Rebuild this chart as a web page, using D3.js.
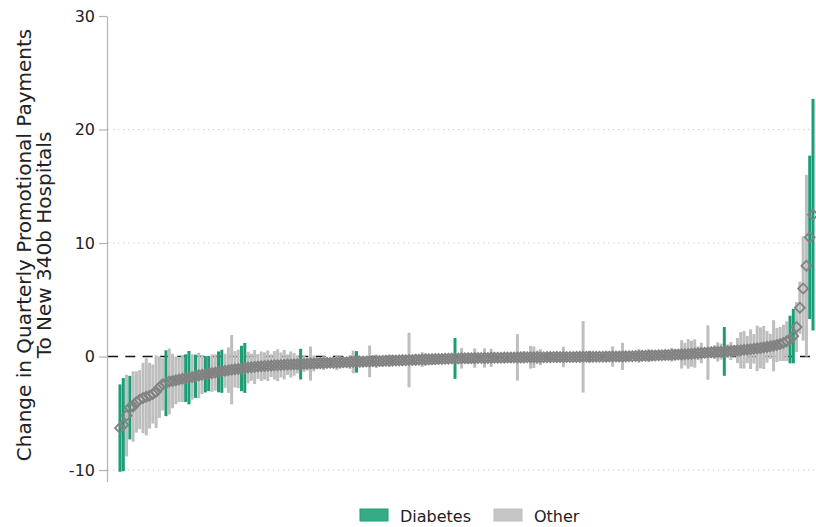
<!DOCTYPE html>
<html>
<head>
<meta charset="utf-8">
<script src="https://cdn.jsdelivr.net/npm/d3@7"></script>
<style>
  body { margin: 0; background: #fff; }
  svg { display: block; font-family: "DejaVu Sans", sans-serif; }
</style>
</head>
<body>
<svg id="chart" width="816" height="527"></svg>
<script>
// Point estimates, sorted from the most negative to the most positive drug.
const estimates = [
  -6.3, -6.0, -5.2, -4.5, -4.4, -4.0, -3.8, -3.65, -3.55, -3.45,
  -3.3, -3.1, -2.7, -2.45, -2.35, -2.2, -2.16, -2.1, -2.02, -1.95,
  -1.9, -1.86, -1.8, -1.74, -1.66, -1.6, -1.56, -1.5, -1.46, -1.41,
  -1.35, -1.3, -1.26, -1.2, -1.16, -1.12, -1.09, -1.05, -1.0, -0.97,
  -0.94, -0.92, -0.88, -0.86, -0.83, -0.81, -0.8, -0.77, -0.76, -0.74,
  -0.72, -0.71, -0.7, -0.69, -0.68, -0.67, -0.65, -0.64, -0.62, -0.61,
  -0.6, -0.58, -0.57, -0.56, -0.55, -0.54, -0.53, -0.52, -0.51, -0.5,
  -0.49, -0.48, -0.47, -0.46, -0.45, -0.44, -0.43, -0.42, -0.41, -0.4,
  -0.39, -0.38, -0.37, -0.36, -0.35, -0.34, -0.33, -0.32, -0.31, -0.3,
  -0.29, -0.28, -0.27, -0.26, -0.25, -0.24, -0.23, -0.22, -0.21, -0.2,
  -0.19, -0.18, -0.17, -0.165, -0.16, -0.155, -0.15, -0.145, -0.14, -0.135,
  -0.13, -0.125, -0.12, -0.115, -0.11, -0.105, -0.1, -0.095, -0.09, -0.085,
  -0.08, -0.078, -0.075, -0.07, -0.068, -0.065, -0.062, -0.06, -0.058, -0.055,
  -0.052, -0.05, -0.048, -0.045, -0.042, -0.04, -0.038, -0.035, -0.032, -0.03,
  -0.028, -0.025, -0.022, -0.02, -0.018, -0.015, -0.012, -0.01, -0.008, -0.005,
  -0.002, 0.0, 0.005, 0.01, 0.015, 0.02, 0.03, 0.04, 0.05, 0.06,
  0.07, 0.08, 0.09, 0.1, 0.11, 0.12, 0.13, 0.14, 0.15, 0.16,
  0.18, 0.19, 0.21, 0.23, 0.25, 0.27, 0.29, 0.31, 0.33, 0.35,
  0.37, 0.39, 0.41, 0.43, 0.45, 0.47, 0.49, 0.51, 0.53, 0.56,
  0.59, 0.62, 0.65, 0.68, 0.72, 0.76, 0.8, 0.85, 0.9, 0.95,
  1.02, 1.1, 1.2, 1.35, 1.5, 1.8, 2.6, 4.3, 6.0, 8.0, 10.5, 12.5
];

// Half-width of each confidence interval.
const halfWidths = [
  3.85, 4.1, 3.6, 2.8, 3.1, 2.7, 2.6, 3.1, 3.4, 2.9,
  2.6, 3.2, 2.7, 2.3, 2.9, 2.9, 2.4, 2.1, 2.0, 2.05,
  2.1, 2.35, 2.0, 1.9, 2.0, 1.7, 1.6, 1.55, 1.65, 1.6,
  1.8, 1.9, 1.5, 2.0, 3.05, 1.6, 1.7, 2.0, 2.2, 1.4,
  1.2, 1.5, 1.1, 1.3, 1.2, 1.35, 1.0, 1.25, 1.4, 1.1,
  1.3, 0.9, 1.15, 1.0, 0.8, 1.35, 0.7, 0.6, 1.5, 0.7,
  0.5, 0.45, 0.6, 0.4, 0.3, 0.5, 0.65, 0.55, 0.45, 0.4,
  0.6, 1.0, 0.95, 0.5, 0.35, 0.45, 1.4, 0.3, 0.6, 0.4,
  0.5, 0.3, 0.55, 0.3, 0.4, 0.35, 0.5, 0.3, 2.4, 0.3,
  0.5, 0.35, 0.65, 0.55, 0.4, 0.5, 0.3, 0.45, 0.35, 0.3,
  0.4, 0.3, 1.8, 0.25, 0.9, 0.3, 0.5, 0.4, 0.85, 0.3,
  0.25, 0.85, 0.35, 0.8, 0.45, 0.25, 0.3, 0.35, 0.25, 0.4,
  0.3, 2.05, 0.3, 0.55, 0.35, 1.0, 0.95, 0.6, 0.7, 0.3,
  0.25, 0.45, 0.3, 0.5, 0.35, 0.9, 0.4, 0.3, 0.45, 0.3,
  0.35, 3.15, 0.3, 0.5, 0.35, 0.4, 0.3, 0.25, 0.45, 0.3,
  0.9, 0.35, 0.5, 1.2, 0.4, 0.35, 0.3, 0.45, 0.6, 0.35,
  0.4, 0.55, 0.5, 0.35, 0.4, 0.3, 0.45, 0.35, 0.6, 0.5,
  0.4, 1.25, 1.0, 1.3, 1.15, 1.25, 0.6, 0.9, 0.4, 2.4,
  0.5, 0.6, 0.85, 0.7, 2.15, 0.6, 0.8, 0.5, 1.1, 1.6,
  1.65, 1.2, 1.75, 1.3, 2.0, 1.8, 1.9, 1.4, 1.1, 2.25,
  1.5, 1.5, 1.6, 1.75, 2.1, 2.4, 2.2, 2.3, 4.6, 8.0, 7.2, 10.2
];

// Positions (in sorted order) of the diabetes drugs; all others are "Other".
const diabetesIdx = [0, 1, 3, 14, 20, 21, 23, 26, 27, 30, 31, 37, 38, 55, 64, 72,
  77, 83, 89, 102, 115, 118, 130, 143, 147, 184, 204, 205, 210, 211];

const yTicks = [-10, 0, 10, 20, 30];
const gridValues = [-10, 10, 20];
const groups = ["Diabetes", "Other"];
const groupColors = ["#1b9e77", "#bebebe"];
const yTitle = ["Change in Quarterly Promotional Payments", "To New 340b Hospitals"];

const diabetesSet = new Set(diabetesIdx);
const rows = estimates.map((e, i) => ({
  i,
  est: e,
  lo: e - halfWidths[i],
  hi: e + halfWidths[i],
  group: diabetesSet.has(i) ? "Diabetes" : "Other"
}));

const svg = d3.select("#chart");
const W = 816;
const axisX = 107;

const x = d3.scaleLinear().domain([0, rows.length - 1]).range([120, 813]);
const y = d3.scaleLinear().domain([-11, 30]).range([481.4, 16]);
const color = d3.scaleOrdinal().domain(groups).range(groupColors);

// dotted horizontal gridlines
svg.append("g")
  .selectAll("line")
  .data(gridValues)
  .join("line")
  .attr("x1", axisX + 1).attr("x2", W)
  .attr("y1", d => y(d)).attr("y2", d => y(d))
  .attr("stroke", "#cfcfcf")
  .attr("stroke-width", 1.2)
  .attr("stroke-dasharray", "1.3,3.7");

// dashed zero reference line
svg.append("line")
  .attr("x1", axisX + 1).attr("x2", W)
  .attr("y1", y(0)).attr("y2", y(0))
  .attr("stroke", "#111")
  .attr("stroke-width", 1.4)
  .attr("stroke-dasharray", "10,7.3");

// confidence-interval bars
const barW = 3;
svg.append("g")
  .selectAll("rect")
  .data(rows)
  .join("rect")
  .attr("x", d => x(d.i) - barW / 2)
  .attr("width", barW)
  .attr("y", d => y(d.hi))
  .attr("height", d => y(d.lo) - y(d.hi))
  .attr("fill", d => color(d.group));

// hollow diamonds at the point estimates
const diamond = d3.symbol().type(d3.symbolSquare).size(50);
svg.append("g")
  .selectAll("path")
  .data(rows)
  .join("path")
  .attr("d", diamond)
  .attr("transform", d => `translate(${x(d.i)},${y(d.est)}) rotate(45)`)
  .attr("fill", "none")
  .attr("stroke", "#828282")
  .attr("stroke-width", 1.8);

// y axis
const yAxis = d3.axisLeft(y)
  .tickValues(yTicks)
  .tickSize(8)
  .tickSizeOuter(0)
  .tickPadding(4)
  .tickFormat(d => String(d));
const gAxis = svg.append("g")
  .attr("transform", `translate(${axisX},0)`)
  .call(yAxis);
gAxis.select(".domain").attr("stroke", "#b3b3b3").attr("stroke-width", 1.2);
gAxis.selectAll(".tick line").attr("stroke", "#b3b3b3").attr("stroke-width", 1.2);
gAxis.selectAll(".tick text")
  .attr("fill", "#222")
  .style("font-size", "16px")
  .style("font-family", "DejaVu Sans, sans-serif");

// y axis title, two centred lines
const titleY = 245;
svg.append("g")
  .selectAll("text")
  .data(yTitle)
  .join("text")
  .attr("transform", (d, k) => `translate(${31 + k * 20},${titleY}) rotate(-90)`)
  .attr("text-anchor", "middle")
  .attr("fill", "#222")
  .style("font-size", "20px")
  .text(d => d);

// legend
const legend = svg.append("g").attr("transform", "translate(360,509)");
const legendOffsets = [0, 134];
const items = legend.selectAll("g")
  .data(groups)
  .join("g")
  .attr("transform", (d, k) => `translate(${legendOffsets[k]},0)`);
items.append("rect")
  .attr("width", 28).attr("height", 12)
  .attr("fill", d => color(d))
  .attr("fill-opacity", 0.88)
  .attr("stroke", d => color(d))
  .attr("stroke-width", 1);
items.append("text")
  .attr("x", 40).attr("y", 13)
  .attr("fill", "#222")
  .style("font-size", "16px")
  .text(d => d);
</script>
</body>
</html>
